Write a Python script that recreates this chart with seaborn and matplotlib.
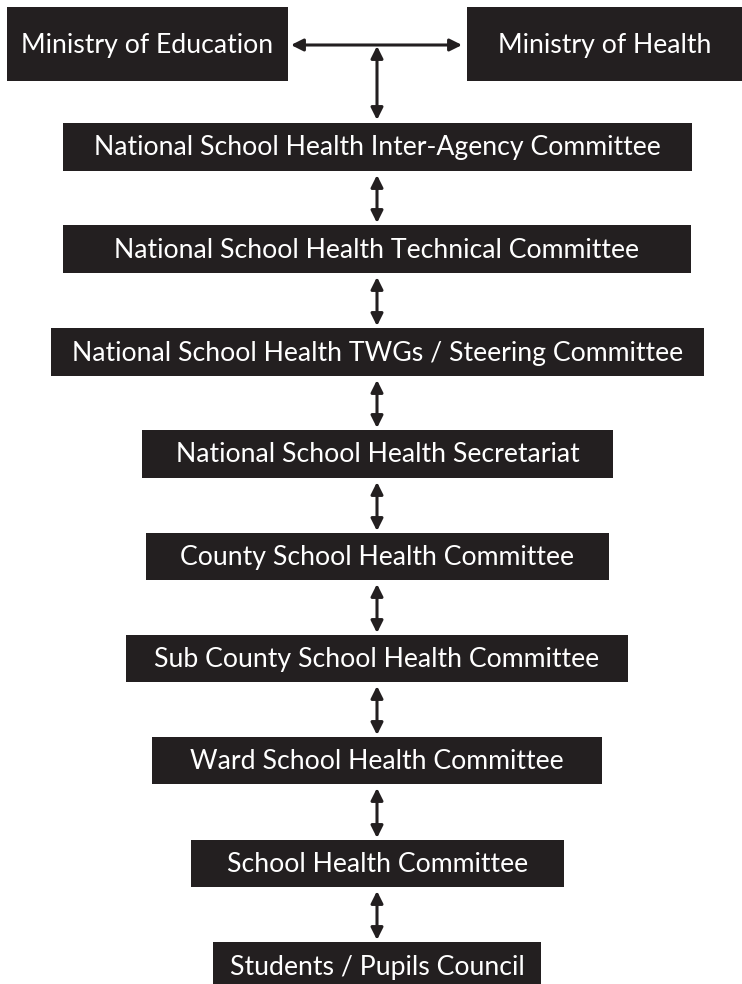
import matplotlib
matplotlib.use('Agg')
import matplotlib.pyplot as plt
import seaborn as sns

# 组织结构图的数据
top_labels = ["Ministry of Education", "Ministry of Health"]
top_left = [7, 467]
top_right = [288, 742]

labels = [
    "National School Health Inter-Agency Committee",
    "National School Health Technical Committee",
    "National School Health TWGs / Steering Committee",
    "National School Health Secretariat",
    "County School Health Committee",
    "Sub County School Health Committee",
    "Ward School Health Committee",
    "School Health Committee",
    "Students / Pupils Council",
]
box_left = [63, 63, 51, 142, 146, 126, 152, 191, 213]
box_right = [692, 691, 704, 613, 609, 628, 602, 564, 541]
box_top = [123, 225, 328, 430, 533, 635, 737, 840, 942]
box_bottom = [171, 273, 376, 478, 580, 682, 784, 887, 990]

box_color = '#231f20'

sns.set_theme(style="white")
plt.rcParams['font.family'] = ['Lato', 'DejaVu Sans']

fig = plt.figure(figsize=(7.42, 9.84), dpi=100)
ax = fig.add_axes([0, 0, 1, 1])
ax.set_xlim(0, 742)
ax.set_ylim(984, 0)
ax.axis('off')

# 顶部两个部委
for lab, l, r in zip(top_labels, top_left, top_right):
    ax.barh(44, r - l, left=l, height=74, color=box_color, edgecolor='none')
    ax.text((l + r) / 2, 45, lab, color='white', fontsize=19.2,
            fontweight='normal', ha='center', va='center')

# 各级委员会
for lab, l, r, t, b in zip(labels, box_left, box_right, box_top, box_bottom):
    ax.barh((t + b) / 2, r - l, left=l, height=b - t, color=box_color,
            edgecolor='none')
    ax.text((l + r) / 2, (t + b) / 2 + 1, lab, color='white', fontsize=19.2,
            fontweight='normal', ha='center', va='center')

arrow = dict(arrowstyle='<|-|>', color=box_color, lw=2.2, mutation_scale=18,
             shrinkA=0, shrinkB=0)
cx = 377

# 横向箭头和竖向箭头
ax.annotate('', xy=(291, 45), xytext=(462, 45), arrowprops=arrow)
ax.annotate('', xy=(cx, 46), xytext=(cx, 120), arrowprops=arrow)

for i in range(len(labels) - 1):
    ax.annotate('', xy=(cx, box_bottom[i] + 4), xytext=(cx, box_top[i + 1] - 2),
                arrowprops=arrow)

plt.savefig('out.png', dpi=100)
plt.close()
